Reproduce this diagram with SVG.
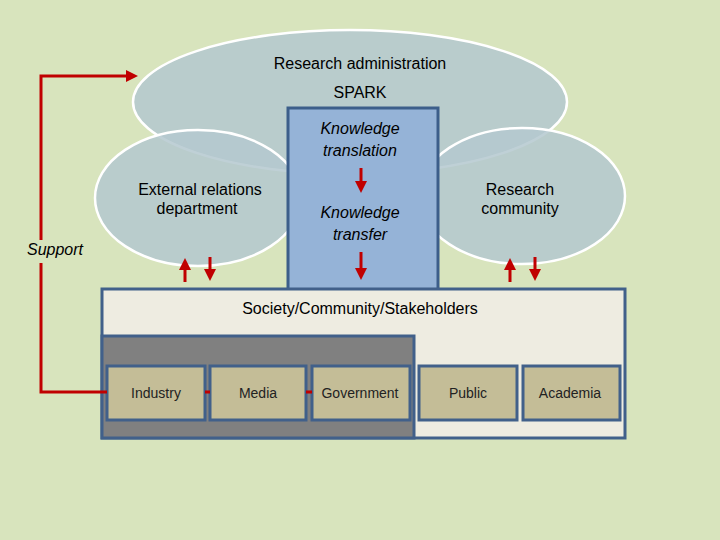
<svg xmlns="http://www.w3.org/2000/svg" width="720" height="540" viewBox="0 0 720 540">
<style>
.e{fill:#b4c8cf;fill-opacity:0.85;stroke:#fff;stroke-width:2.5}
.t{font-family:"Liberation Sans",Arial,sans-serif;font-size:16px;fill:#000;text-anchor:middle}
.i{font-style:italic}
.s{font-family:"Liberation Sans",Arial,sans-serif;font-size:14px;fill:#222;text-anchor:middle}
.b{fill:#c4bd97;stroke:#41608a;stroke-width:3}
.r{stroke:#c00000;stroke-width:3;fill:none}
</style>
<defs>
<marker id="a" markerWidth="4" markerHeight="4" refX="2" refY="2" orient="auto" markerUnits="strokeWidth"><path d="M0,0 L4,2 L0,4 z" fill="#c00000"/></marker>
</defs>
<rect width="720" height="540" fill="#d8e4bd"/>
<g id="admin"><ellipse class="e" cx="350" cy="102" rx="217" ry="72"/></g>
<g id="ext"><ellipse class="e" cx="198" cy="198" rx="103" ry="68"/></g>
<g id="rc"><ellipse class="e" cx="522" cy="196" rx="103" ry="68"/></g>
<g id="ktr"><rect x="288" y="108" width="150" height="184" fill="#95b3d7" stroke="#3c5e8a" stroke-width="3"/></g>
<text class="t" x="360" y="69">Research administration</text>
<text class="t" x="360" y="98">SPARK</text>
<text class="t" x="200" y="195">External relations</text>
<text class="t" x="197" y="214">department</text>
<text class="t" x="520" y="195">Research</text>
<text class="t" x="520" y="214">community</text>
<text class="t i" x="360" y="134">Knowledge</text>
<text class="t i" x="360" y="156">translation</text>
<text class="t i" x="360" y="218">Knowledge</text>
<text class="t i" x="360" y="240">transfer</text>
<text class="t i" x="55" y="255">Support</text>
<g id="society"><rect x="102" y="289" width="523" height="149" fill="#eeece1" stroke="#41608a" stroke-width="3"/>
<rect x="102" y="336" width="312" height="102" fill="#808080" stroke="#41608a" stroke-width="3"/>
<text class="t" x="360" y="314">Society/Community/Stakeholders</text></g>
<g id="industry"><rect class="b" x="107" y="366" width="98" height="54"/><text class="s" x="156" y="398">Industry</text></g>
<g id="media"><rect class="b" x="210" y="366" width="96" height="54"/><text class="s" x="258" y="398">Media</text></g>
<g id="government"><rect class="b" x="312" y="366" width="98" height="54"/><text class="s" x="360" y="398">Government</text></g>
<g id="public"><rect class="b" x="419" y="366" width="98" height="54"/><text class="s" x="468" y="398">Public</text></g>
<g id="academia"><rect class="b" x="523" y="366" width="97" height="54"/><text class="s" x="570" y="398">Academia</text></g>
<g id="connectors">
<polyline class="r" points="107,392 41,392 41,263"/>
<polyline class="r" points="41,240 41,76 132,76" marker-end="url(#a)"/>
<line class="r" x1="205" y1="392" x2="210" y2="392"/>
<line class="r" x1="306" y1="392" x2="312" y2="392"/>
<line class="r" x1="185" y1="282" x2="185" y2="264" marker-end="url(#a)"/>
<line class="r" x1="210" y1="257" x2="210" y2="275" marker-end="url(#a)"/>
<line class="r" x1="361" y1="168" x2="361" y2="187" marker-end="url(#a)"/>
<line class="r" x1="361" y1="252" x2="361" y2="274" marker-end="url(#a)"/>
<line class="r" x1="510" y1="282" x2="510" y2="264" marker-end="url(#a)"/>
<line class="r" x1="535" y1="257" x2="535" y2="275" marker-end="url(#a)"/>
</g>
</svg>
